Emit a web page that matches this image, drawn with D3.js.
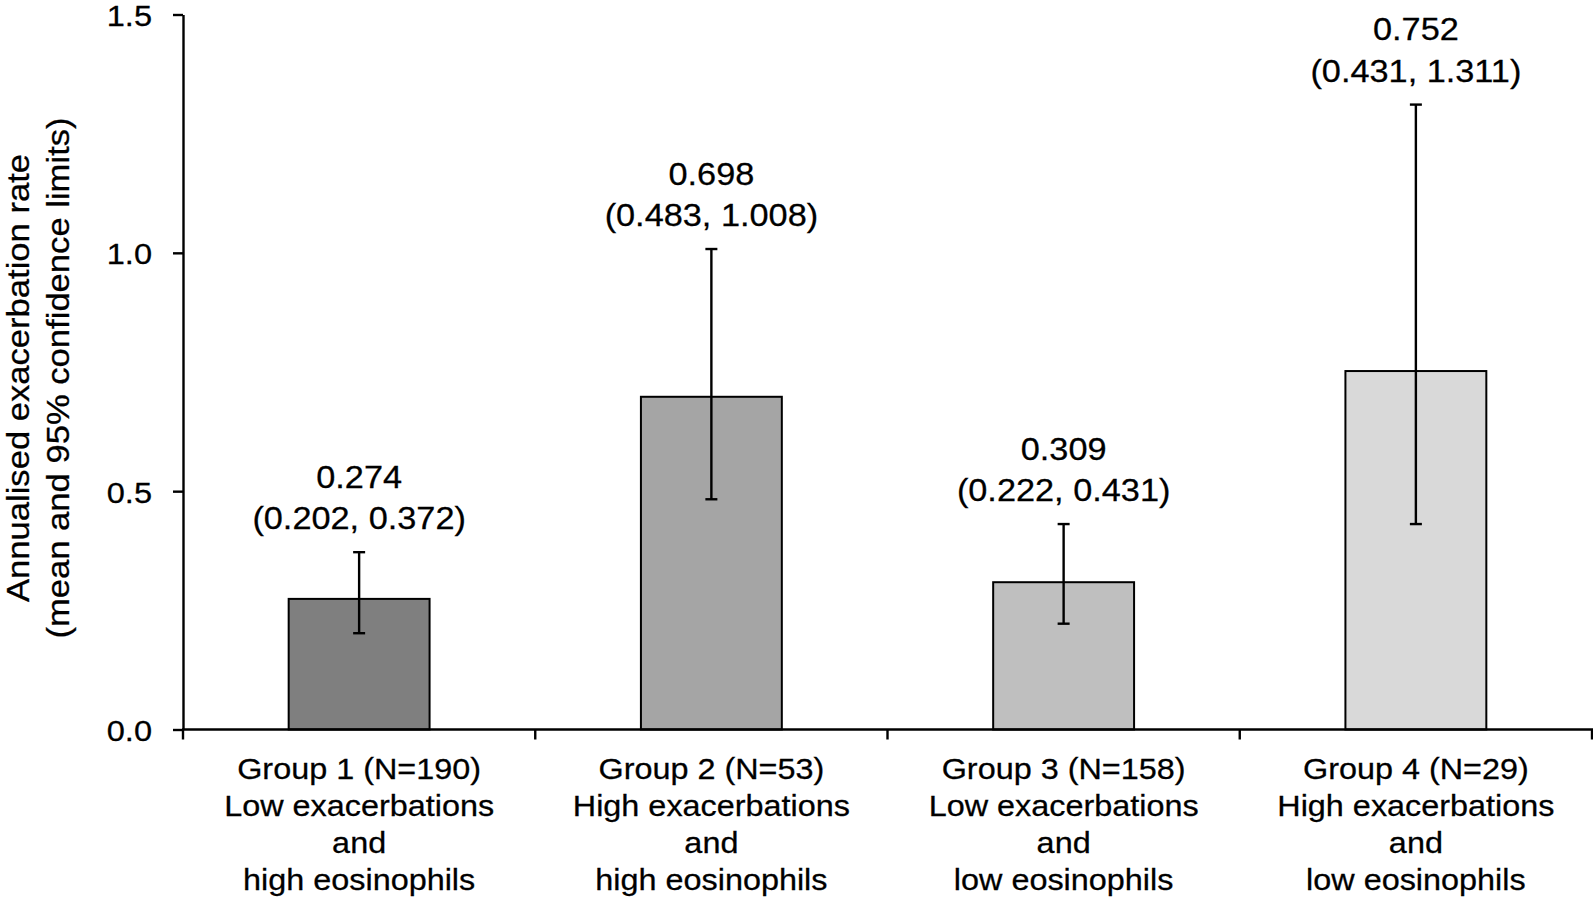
<!DOCTYPE html>
<html>
<head>
<meta charset="utf-8">
<script src="https://cdn.jsdelivr.net/npm/d3@7"></script>
<style>
  html, body { margin: 0; padding: 0; background: #ffffff; }
  svg { display: block; font-family: "Liberation Sans", Arial, sans-serif; }
  svg text { stroke: #000; stroke-width: 0.3px; fill: #000; }
</style>
</head>
<body>
<svg id="chart" width="1593" height="900"></svg>
<script>
// ---- data ----
const groupNames = ["Group 1 (N=190)", "Group 2 (N=53)", "Group 3 (N=158)", "Group 4 (N=29)"];
const groupDescriptions = [
  ["Low exacerbations", "and", "high eosinophils"],
  ["High exacerbations", "and", "high eosinophils"],
  ["Low exacerbations", "and", "low eosinophils"],
  ["High exacerbations", "and", "low eosinophils"]
];
const means = [0.274, 0.698, 0.309, 0.752];
const lowerLimits = [0.202, 0.483, 0.222, 0.431];
const upperLimits = [0.372, 1.008, 0.431, 1.311];
const yTickValues = [0.0, 0.5, 1.0, 1.5];
const yTitleLines = ["Annualised exacerbation rate", "(mean and 95% confidence limits)"];

// ---- layout ----
const svg = d3.select("#chart");
const plotLeft = 183, plotRight = 1592, plotTop = 14.5, plotBottom = 729.5;
const vScale = 0.93; // slight vertical squash of glyphs

const x = d3.scaleBand().domain(groupNames).range([plotLeft, plotRight])
  .paddingInner(0.6).paddingOuter(0.3);
const y = d3.scaleLinear().domain([0, 1.5]).range([plotBottom, plotTop]);
const color = d3.scaleOrdinal().domain(groupNames)
  .range(["#7f7f7f", "#a5a5a5", "#bfbfbf", "#d9d9d9"]);

const rows = groupNames.map((g, i) => ({
  name: g, desc: groupDescriptions[i], mean: means[i], lo: lowerLimits[i], hi: upperLimits[i]
}));

// bars
svg.append("g").selectAll("rect").data(rows).join("rect")
  .attr("x", d => x(d.name))
  .attr("y", d => y(d.mean))
  .attr("width", x.bandwidth())
  .attr("height", d => y(0) - y(d.mean))
  .attr("fill", d => color(d.name))
  .attr("stroke", "#000")
  .attr("stroke-width", 2);

// error bars
const capW = 12;
const eb = svg.append("g").attr("stroke", "#000").attr("stroke-width", 2.4);
rows.forEach(d => {
  const cx = x(d.name) + x.bandwidth() / 2;
  eb.append("line").attr("x1", cx).attr("x2", cx).attr("y1", y(d.lo)).attr("y2", y(d.hi));
  eb.append("line").attr("x1", cx - capW / 2).attr("x2", cx + capW / 2).attr("y1", y(d.lo)).attr("y2", y(d.lo));
  eb.append("line").attr("x1", cx - capW / 2).attr("x2", cx + capW / 2).attr("y1", y(d.hi)).attr("y2", y(d.hi));
});

// value annotations
const fmt3 = d3.format(".3f");
rows.forEach(d => {
  const cx = x(d.name) + x.bandwidth() / 2;
  const base2 = y(d.hi) - 23;
  const lines = [fmt3(d.mean), "(" + fmt3(d.lo) + ", " + fmt3(d.hi) + ")"];
  lines.forEach((t, j) => {
    svg.append("text")
      .attr("transform", `translate(${cx},${base2 - (1 - j) * 41.5}) scale(1,${vScale})`)
      .attr("text-anchor", "middle")
      .attr("font-size", 34.3)
      .text(t);
  });
});

// y axis
const yAxis = svg.append("g").attr("transform", `translate(${plotLeft},0)`)
  .call(d3.axisLeft(y).tickValues(yTickValues).tickFormat(d3.format(".1f"))
    .tickSize(10).tickSizeOuter(0).tickPadding(21));
yAxis.select(".domain").attr("stroke", "#000").attr("stroke-width", 2.4);
yAxis.selectAll(".tick line").attr("stroke", "#000").attr("stroke-width", 2.4);
yAxis.selectAll(".tick text")
  .attr("font-size", 32.6)
  .attr("font-family", "'Liberation Sans', Arial, sans-serif")
  .attr("dy", "0.36em")
  .attr("transform", `scale(1,${vScale})`);

// x axis baseline and category separator ticks
const xg = svg.append("g").attr("stroke", "#000").attr("stroke-width", 2.4);
xg.append("line").attr("x1", plotLeft - 1).attr("x2", plotRight + 1)
  .attr("y1", y(0)).attr("y2", y(0));
d3.range(groupNames.length + 1).forEach(i => {
  const bx = x.range()[0] + i * x.step();
  xg.append("line").attr("x1", bx).attr("x2", bx).attr("y1", y(0)).attr("y2", y(0) + 10);
});

// category labels
rows.forEach(d => {
  const cx = x(d.name) + x.bandwidth() / 2;
  [d.name].concat(d.desc).forEach((t, j) => {
    svg.append("text")
      .attr("transform", `translate(${cx},${y(0) + 49 + j * 37.3}) scale(1,${vScale})`)
      .attr("text-anchor", "middle")
      .attr("font-size", 32.4)
      .text(t);
  });
});

// y axis title
const titleCenter = (plotTop + plotBottom) / 2 + 6;
yTitleLines.forEach((t, j) => {
  svg.append("text")
    .attr("transform", `translate(${29 + j * 40},${titleCenter}) rotate(-90) scale(1,${vScale})`)
    .attr("text-anchor", "middle")
    .attr("font-size", 34.6)
    .text(t);
});
</script>
</body>
</html>
